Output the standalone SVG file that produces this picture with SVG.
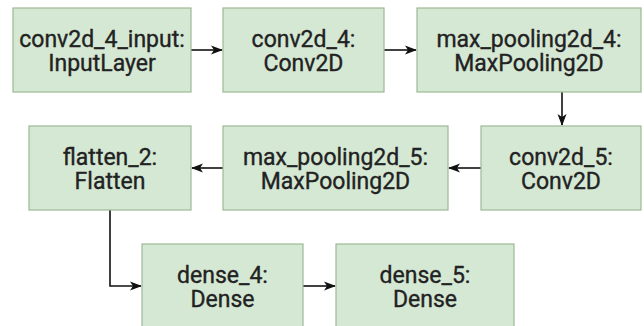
<svg xmlns="http://www.w3.org/2000/svg" width="644" height="326" viewBox="0 0 644 326">
<style>
.box{fill:#d5e8d4;stroke:#9db894;stroke-width:1.2}
.t{font-family:Roboto,"Liberation Sans",sans-serif;font-size:23px;font-weight:normal;fill:#222;text-anchor:middle;stroke:#222;stroke-width:0.35}
.c{fill:none;stroke:#111;stroke-width:1.6}
</style>
<defs>
<marker id="ah" markerWidth="12" markerHeight="12" viewBox="0 0 12 12" refX="11" refY="6" orient="auto" markerUnits="userSpaceOnUse">
<path d="M0,1.5 L12,6 L0,10.5 L3,6 Z" fill="#111"/>
</marker>
</defs>
<rect width="644" height="326" fill="#fff"/>
<g id="connectors">
<path class="c" d="M191,50 H222" marker-end="url(#ah)"/>
<path class="c" d="M384,50 H416" marker-end="url(#ah)"/>
<path class="c" d="M562,92 V125" marker-end="url(#ah)"/>
<path class="c" d="M481,168 H449" marker-end="url(#ah)"/>
<path class="c" d="M223,168 H192" marker-end="url(#ah)"/>
<path class="c" d="M110,210 V286 H141" marker-end="url(#ah)"/>
<path class="c" d="M303,286 H335" marker-end="url(#ah)"/>
</g>
<g id="conv2d_4_input">
<rect class="box" x="13" y="8" width="178" height="84"/>
<text class="t"><tspan x="102" y="47">conv2d_4_input:</tspan><tspan x="102" y="71">InputLayer</tspan></text>
</g>
<g id="conv2d_4">
<rect class="box" x="223" y="8" width="161" height="84"/>
<text class="t"><tspan x="303.5" y="47">conv2d_4:</tspan><tspan x="303.5" y="71">Conv2D</tspan></text>
</g>
<g id="max_pooling2d_4">
<rect class="box" x="417" y="8" width="224" height="84"/>
<text class="t"><tspan x="529" y="47">max_pooling2d_4:</tspan><tspan x="529" y="71">MaxPooling2D</tspan></text>
</g>
<g id="conv2d_5">
<rect class="box" x="481" y="126" width="160" height="84"/>
<text class="t"><tspan x="561" y="165">conv2d_5:</tspan><tspan x="561" y="189">Conv2D</tspan></text>
</g>
<g id="max_pooling2d_5">
<rect class="box" x="223" y="126" width="225" height="84"/>
<text class="t"><tspan x="335.5" y="165">max_pooling2d_5:</tspan><tspan x="335.5" y="189">MaxPooling2D</tspan></text>
</g>
<g id="flatten_2">
<rect class="box" x="29" y="126" width="162" height="84"/>
<text class="t"><tspan x="110" y="165">flatten_2:</tspan><tspan x="110" y="189">Flatten</tspan></text>
</g>
<g id="dense_4">
<rect class="box" x="142" y="244" width="161" height="84"/>
<text class="t"><tspan x="222.5" y="283">dense_4:</tspan><tspan x="222.5" y="307">Dense</tspan></text>
</g>
<g id="dense_5">
<rect class="box" x="336" y="244" width="178" height="84"/>
<text class="t"><tspan x="425" y="283">dense_5:</tspan><tspan x="425" y="307">Dense</tspan></text>
</g>
</svg>
